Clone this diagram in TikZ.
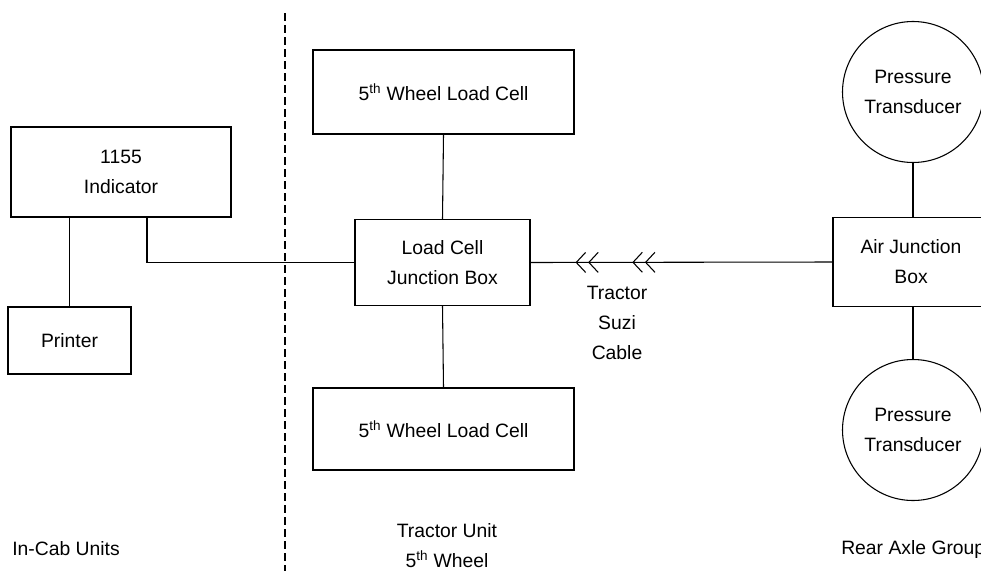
\documentclass[tikz,border=0pt]{standalone}
\usepackage{fontspec}
\setmainfont{Liberation Sans}
\usetikzlibrary{positioning, arrows.meta, decorations.markings}
\newcommand{\px}{0.75pt}

\begin{document}
\begin{tikzpicture}[
        x=0.75pt, y=-0.75pt, % pixel grid, y downwards
        every node/.style={font=\fontsize{14.5}{22.5}\selectfont, align=center, inner sep=0pt}, % Node style
        box/.style={draw, line width=0.8pt}, % Box style
        sensor/.style={draw, circle, line width=0.8pt, minimum size=141*\px}, % Circle style
        wire/.style={line width=0.8pt}, % Connector style
        suzi/.style={wire, postaction={decorate}, decoration={markings,
            mark=at position 0.663 with {\arrow{Straight Barb[length=7pt,width=15pt,line width=0.8pt,sep=1.5pt]Straight Barb[length=7pt,width=15pt,line width=0.8pt]}},
            mark=at position 0.851 with {\arrow{Straight Barb[length=7pt,width=15pt,line width=0.8pt,sep=1.5pt]Straight Barb[length=7pt,width=15pt,line width=0.8pt]}}}}
    ]

    \useasboundingbox (0,0) rectangle (981,571);
    \clip (0,0) rectangle (981,571);

    % In-cab units
    \node (ind) [box, minimum width=220*\px, minimum height=90*\px] at (121,172) {1155\\Indicator};
    \node (prt) [box, minimum width=123*\px, minimum height=67*\px] at (69.5,340.5) {Printer};
    \coordinate (indout) at (147,217);

    % Tractor unit
    \node (cell1) [box, minimum width=261*\px, minimum height=84*\px] at (443.5,92) {5\textsuperscript{th} Wheel Load Cell};
    \node (jbox) [box, minimum width=175*\px, minimum height=86*\px] at (442.5,262.5) {Load Cell\\Junction Box};
    \node (cell2) [box, minimum width=261*\px, minimum height=82*\px] at (443.5,429) {5\textsuperscript{th} Wheel Load Cell};

    % Rear axle group
    \node (pt1) [sensor] at (913,92) {Pressure\\Transducer};
    \node (air) [box, minimum width=156*\px, minimum height=89*\px] at (911,262) {Air Junction\\Box};
    \node (pt2) [sensor] at (913,430) {Pressure\\Transducer};

    % Connections
    \draw[wire] (ind.south -| prt.north) -- (prt.north);
    \draw[wire] (indout) |- (jbox.west);
    \draw[wire] (cell1.south) -- (jbox.north);
    \draw[wire] (jbox.south) -- (cell2.north);
    \draw[wire] (pt1.south) -- (pt1.south |- air.north);
    \draw[wire] (pt2.north |- air.south) -- (pt2.north);
    \draw[suzi] (air.west) -- (jbox.east);
    \node (cable) at (617,323) {Tractor\\Suzi\\Cable};

    % Cab boundary
    \draw[line width=0.8pt, dash pattern=on 6pt off 3pt] (285,13) -- (285,571);

    % Labels
    \node (cab) [anchor=west] at (12,549) {In-Cab Units};
    \node (tractor) at (447,546) {Tractor Unit\\5\textsuperscript{th} Wheel};
    \node (rear) [anchor=west] at (841,549) {Rear Axle Group};

\end{tikzpicture}
\end{document}
